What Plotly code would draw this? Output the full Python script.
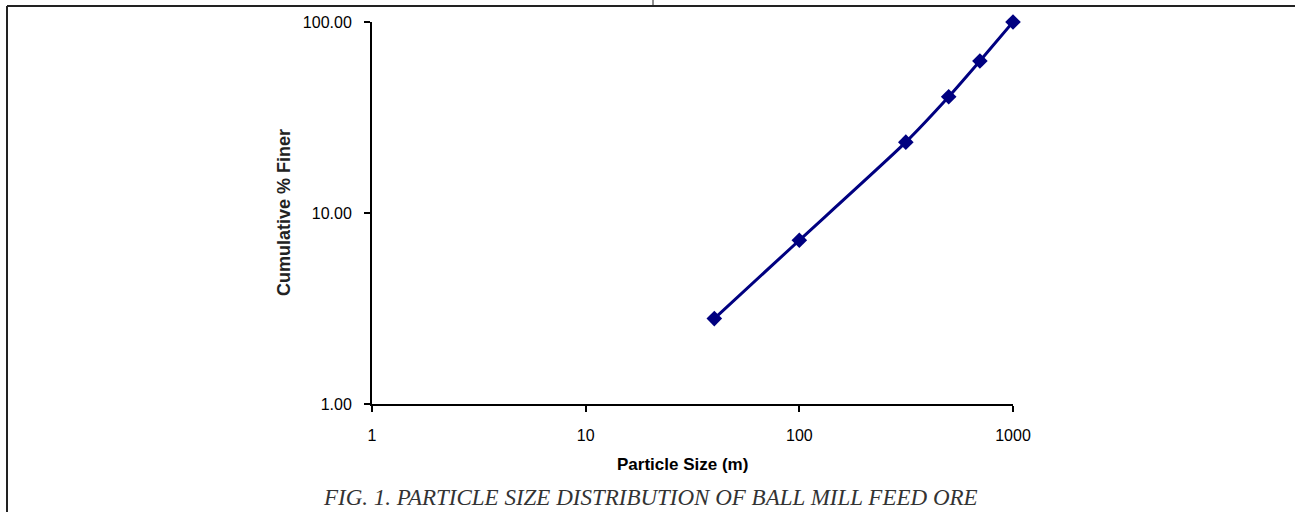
import plotly.graph_objects as go

# Data
particle_size = [40, 100, 315, 500, 700, 1000]
cum_finer = [2.8, 7.2, 23.5, 40.6, 62.5, 100.0]

x_tickvals = [1, 10, 100, 1000]
x_ticktext = ["1", "10", "100", "1000"]
y_tickvals = [1, 10, 100]
y_ticktext = ["1.00", "10.00", "100.00"]

W, H = 1295, 512
L, R, T, B = 372, 1013, 22, 404  # plot-area pixel edges


def px(x):
    return (x - L) / (R - L)


def py(y):
    return (B - y) / (B - T)


fig = go.Figure()
fig.add_trace(go.Scatter(
    x=particle_size, y=cum_finer, mode="lines+markers",
    line=dict(color="#000080", width=3, shape="spline", smoothing=0.6),
    marker=dict(symbol="diamond", size=12, color="#000080"),
    cliponaxis=False, showlegend=False,
))

axis_font = dict(family="Liberation Sans, Arial, sans-serif", size=16, color="black")
fig.update_xaxes(
    type="log", range=[0, 3], tickvals=x_tickvals, ticktext=x_ticktext,
    showline=True, linecolor="black", linewidth=2, ticks="outside", ticklen=6,
    tickwidth=2, tickcolor="black", showgrid=False, zeroline=False,
    tickfont=axis_font, ticklabelstandoff=10,
)
fig.update_yaxes(
    type="log", range=[0, 2], tickvals=y_tickvals, ticktext=y_ticktext,
    showline=True, linecolor="black", linewidth=2, ticks="outside", ticklen=6,
    tickwidth=2, tickcolor="black", showgrid=False, zeroline=False,
    tickfont=axis_font, ticklabelstandoff=9,
)

shapes = [
    # outer frame lines (left & top) and small top tick
    dict(type="line", xref="paper", yref="paper", x0=px(7), x1=px(1296), y0=py(6), y1=py(6),
         line=dict(color="#222222", width=2)),
    dict(type="line", xref="paper", yref="paper", x0=px(7), x1=px(7), y0=py(6), y1=py(513),
         line=dict(color="#222222", width=2)),
    dict(type="line", xref="paper", yref="paper", x0=px(653), x1=px(653), y0=py(0), y1=py(6),
         line=dict(color="#222222", width=1)),
]

annotations = [
    dict(text="<b>Particle Size (m)</b>", xref="paper", yref="paper", x=px(682), y=py(465),
         showarrow=False, xanchor="center", yanchor="middle",
         font=dict(family="Liberation Sans, Arial, sans-serif", size=17, color="black")),
    dict(text="<b>Cumulative % Finer</b>", xref="paper", yref="paper", x=px(284), y=py(213),
         showarrow=False, xanchor="center", yanchor="middle", textangle=-90,
         font=dict(family="Liberation Sans, Arial, sans-serif", size=18, color="#222222")),
    dict(text="<i>FIG. 1. PARTICLE SIZE DISTRIBUTION OF BALL MILL FEED ORE</i>", xref="paper",
         yref="paper", x=px(650), y=py(497), showarrow=False, xanchor="center", yanchor="middle",
         font=dict(family="Liberation Serif, Times New Roman, serif", size=23, color="#333333")),
]

fig.update_layout(
    width=W, height=H, autosize=False,
    margin=dict(l=L, r=W - R, t=T, b=H - B, pad=0),
    paper_bgcolor="white", plot_bgcolor="white",
    shapes=shapes, annotations=annotations,
)

fig.write_html("out.html")
